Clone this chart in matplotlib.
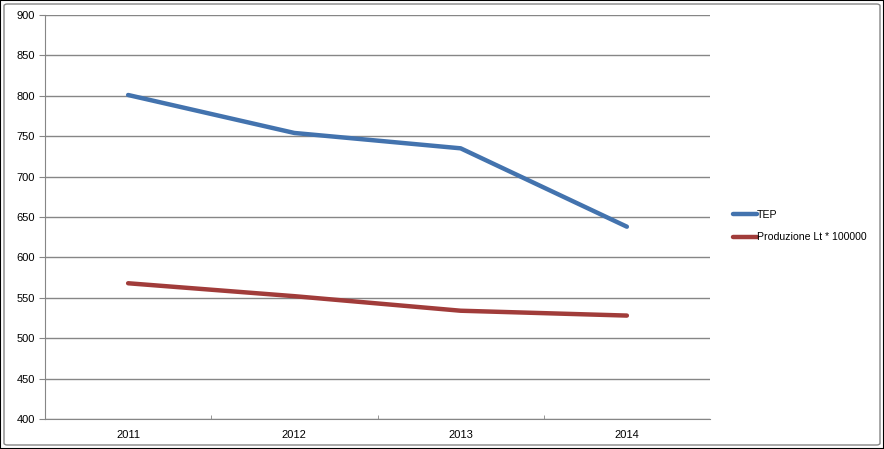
import matplotlib
matplotlib.use('Agg')
import matplotlib.pyplot as plt
from matplotlib.patches import Rectangle, FancyBboxPatch

anni = ['2011', '2012', '2013', '2014']
tep = [801, 754, 735, 638]
produzione = [568, 552, 534, 528]

plt.rcParams['font.family'] = ['Liberation Sans', 'DejaVu Sans']

fig = plt.figure(figsize=(8.84, 4.49), dpi=100)
ax = fig.add_axes([45 / 884, 1 - 419 / 449, 665 / 884, 404 / 449])

x = range(len(anni))
ax.plot(x, tep, color='#4373AE', lw=3.2, solid_capstyle='round', label='TEP')
ax.plot(x, produzione, color='#A13C3A', lw=3.2, solid_capstyle='round', label='Produzione Lt * 100000')

ax.set_xlim(-0.5, 3.5)
ax.set_ylim(400, 900)
ax.set_yticks(range(400, 901, 50))
ax.set_xticks(list(x))
ax.set_xticklabels(anni)
ax.set_xticks([0.5, 1.5, 2.5], minor=True)
ax.grid(axis='y', color='#868686', lw=1)
ax.set_axisbelow(True)
for s in ['top', 'right']:
    ax.spines[s].set_visible(False)
for s in ['left', 'bottom']:
    ax.spines[s].set_color('#868686')
ax.tick_params(axis='y', length=4, color='#868686', labelsize=8, pad=3)
ax.tick_params(axis='x', which='major', length=0, labelsize=8, pad=8)
ax.tick_params(axis='x', which='minor', length=3, direction='in', color='#868686')

ax.legend(loc='center left', bbox_to_anchor=(1.021, 0.478), frameon=False, fontsize=7.6,
          handlelength=2.2, handletextpad=0.05, labelspacing=1.2)

# bordo del grafico
fig.patches.append(Rectangle((0, 0), 1, 1, transform=fig.transFigure, fill=False,
                             ec='black', lw=1.5))
fig.patches.append(FancyBboxPatch((4 / 884, 4 / 449), 876 / 884, 441 / 449,
                                  boxstyle='round,pad=0,rounding_size=0.004',
                                  transform=fig.transFigure, fill=False, ec='#868686', lw=1))

fig.savefig('out.png', dpi=100)
